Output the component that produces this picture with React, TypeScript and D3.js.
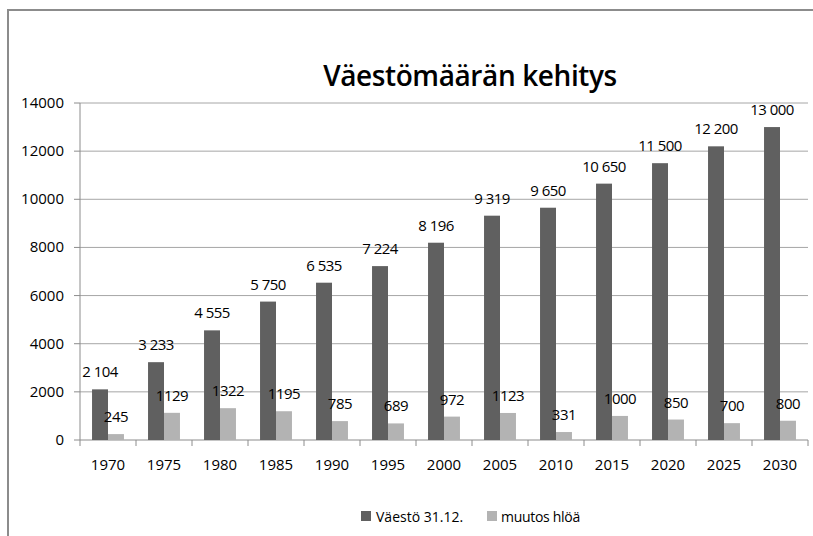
import * as d3 from 'd3'

const years = ['1970', '1975', '1980', '1985', '1990', '1995', '2000', '2005', '2010', '2015', '2020', '2025', '2030']
const population = [2104, 3233, 4555, 5750, 6535, 7224, 8196, 9319, 9650, 10650, 11500, 12200, 13000]
const change = [245, 1129, 1322, 1195, 785, 689, 972, 1123, 331, 1000, 850, 700, 800]
const yTicks = [0, 2000, 4000, 6000, 8000, 10000, 12000, 14000]
const seriesNames = ['Väestö 31.12.', 'muutos hlöä']

const W = 813
const H = 536
const margin = { top: 103, right: 5, bottom: 96, left: 80 }
const innerW = W - margin.left - margin.right
const innerH = H - margin.top - margin.bottom
const font = '"Open Sans", "Liberation Sans", Arial, sans-serif'
const dark = '#606060'
const light = '#b3b3b3'

const fmtSpace = (v: number) => d3.format(',')(v).replace(/,/g, ' ')

export default function App() {
  const x = d3.scaleBand().domain(years).range([0, innerW]).paddingInner(0.43).paddingOuter(0.215)
  const y = d3.scaleLinear().domain([0, 14000]).range([innerH, 0])
  const bw = x.bandwidth() / 2
  const step = x.step()

  return (
    <div style={{ position: 'absolute', left: 0, top: 0 }}>
      <svg width={W} height={H} style={{ display: 'block', background: '#fff' }}>
        {/* chart frame */}
        <path d={`M8,${H} L8,10 L${W},10`} fill="none" stroke="#8c8c8c" strokeWidth={2} />
        <text x={470} y={86} textAnchor="middle" fontFamily={font} fontWeight={600} fontSize={28} letterSpacing={-0.4} fill="#000">
          Väestömäärän kehitys
        </text>
        <g transform={`translate(${margin.left},${margin.top})`}>
          {yTicks.map((t) => (
            <g key={t}>
              {t > 0 && <line x1={0} x2={innerW} y1={y(t)} y2={y(t)} stroke="#a6a6a6" strokeWidth={1} />}
              <line x1={-6} x2={0} y1={y(t)} y2={y(t)} stroke="#8c8c8c" />
              <text x={-16} y={y(t) + 5} textAnchor="end" fontFamily={font} fontSize={15} fill="#000">
                {t}
              </text>
            </g>
          ))}
          <line x1={0} x2={0} y1={0} y2={innerH} stroke="#8c8c8c" />
          <line x1={0} x2={innerW} y1={innerH} y2={innerH} stroke="#8c8c8c" />
          {years.map((yr, i) => (
            <line key={'t' + yr} x1={i * step} x2={i * step} y1={innerH} y2={innerH + 6} stroke="#8c8c8c" />
          ))}
          <line x1={innerW} x2={innerW} y1={innerH} y2={innerH + 6} stroke="#8c8c8c" />
          {years.map((yr, i) => {
            const x0 = x(yr)!
            return (
              <g key={yr}>
                <rect x={x0} y={y(population[i])} width={bw} height={innerH - y(population[i])} fill={dark} />
                <rect x={x0 + bw} y={y(change[i])} width={bw} height={innerH - y(change[i])} fill={light} />
                <text x={x0 + bw / 2} y={y(population[i]) - 12} textAnchor="middle" fontFamily={font} fontSize={15} letterSpacing={-0.5} fill="#000">
                  {fmtSpace(population[i])}
                </text>
                <text x={x0 + bw * 1.5} y={y(change[i]) - 12} textAnchor="middle" fontFamily={font} fontSize={15} letterSpacing={-0.5} fill="#000">
                  {change[i]}
                </text>
                <text x={x0 + bw} y={innerH + 30} textAnchor="middle" fontFamily={font} fontSize={15} fill="#000">
                  {yr}
                </text>
              </g>
            )
          })}
        </g>
        {/* legend */}
        <g transform="translate(361,511)">
          <rect x={0} y={0} width={10} height={10} fill={dark} />
          <text x={15} y={11} fontFamily={font} fontSize={14} fill="#000">{seriesNames[0]}</text>
          <rect x={126} y={0} width={10} height={10} fill={light} />
          <text x={140} y={11} fontFamily={font} fontSize={14} letterSpacing={-0.3} fill="#000">{seriesNames[1]}</text>
        </g>
      </svg>
    </div>
  )
}
